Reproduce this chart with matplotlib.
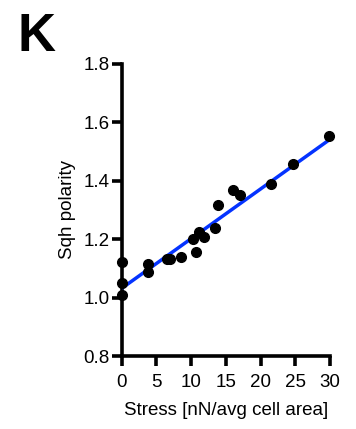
import numpy as np
import matplotlib
matplotlib.use("Agg")
import matplotlib.pyplot as plt

# stress vs Sqh polarity
stress = [0, 0, 0, 3.8, 3.75, 6.5, 6.9, 8.55, 10.3, 11.1, 11.85, 10.75, 13.5, 13.9, 16.0, 17.1, 21.5, 24.6, 29.8]
polarity = [1.121, 1.051, 1.008, 1.114, 1.087, 1.133, 1.133, 1.139, 1.201, 1.224, 1.208, 1.157, 1.239, 1.318, 1.367, 1.353, 1.388, 1.456, 1.553]

# regression line endpoints
fit_x = [0, 30]
fit_y = [1.032, 1.542]

x_ticks = [0, 5, 10, 15, 20, 25, 30]
y_ticks = [0.8, 1.0, 1.2, 1.4, 1.6, 1.8]

plt.rcParams['font.family'] = ['Liberation Sans', 'DejaVu Sans']

fig = plt.figure(figsize=(3.56, 4.29), dpi=100)
ax = fig.add_axes([0.342, 0.170, 0.585, 0.681])

ax.plot(fit_x, fit_y, color='#0433FF', lw=2.5, zorder=3, solid_capstyle='butt')
ax.plot(stress, polarity, 'o', color='black', ms=7, zorder=4, clip_on=False)

ax.set_xlim(0, 30)
ax.set_ylim(0.8, 1.8)
ax.set_xticks(x_ticks)
ax.set_yticks(y_ticks)
ax.set_yticklabels([f"{v:.1f}" for v in y_ticks])

for s in ['top', 'right']:
    ax.spines[s].set_visible(False)
for s in ['left', 'bottom']:
    ax.spines[s].set_linewidth(2.6)
ax.tick_params(width=2.6, length=7, labelsize=13.5, pad=2, color='black')
ax.tick_params(axis='x', pad=6)

ax.set_xlabel('Stress [nN/avg cell area]', fontsize=13.5, labelpad=8)
ax.set_ylabel('Sqh polarity', fontsize=13.5, labelpad=5)

fig.text(0.05, 0.88, 'K', fontsize=38, fontweight='bold')

fig.savefig('out.png', dpi=100)
